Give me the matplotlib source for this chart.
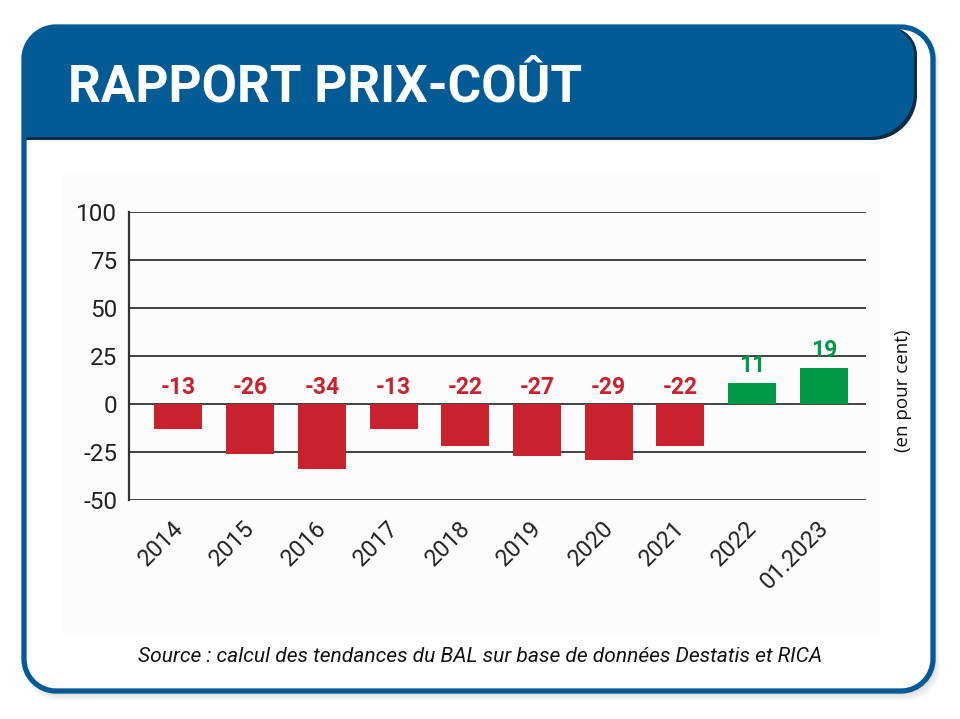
import numpy as np
import matplotlib
matplotlib.use("Agg")
import matplotlib.pyplot as plt
from matplotlib.path import Path
from matplotlib.patches import PathPatch, Rectangle
from matplotlib.transforms import ScaledTranslation

# données
categories = ["2014", "2015", "2016", "2017", "2018", "2019", "2020", "2021", "2022", "01.2023"]
valeurs = [-13, -26, -34, -13, -22, -27, -29, -22, 11, 19]
yticks = [-50, -25, 0, 25, 50, 75, 100]

BLEU = "#035b96"
ROUGE = "#c9222f"
VERT = "#009a47"
W, H = 960, 719


def rrect(x0, y0, x1, y1, rtl, rtr, rbr, rbl):
    # rectangle arrondi en pixels (y vers le bas)
    k = 0.5523
    v, c = [], []
    v.append((x0 + rtl, y0)); c.append(Path.MOVETO)
    v.append((x1 - rtr, y0)); c.append(Path.LINETO)
    v += [(x1 - rtr + k * rtr, y0), (x1, y0 + rtr - k * rtr), (x1, y0 + rtr)]; c += [Path.CURVE4] * 3
    v.append((x1, y1 - rbr)); c.append(Path.LINETO)
    v += [(x1, y1 - rbr + k * rbr), (x1 - rbr + k * rbr, y1), (x1 - rbr, y1)]; c += [Path.CURVE4] * 3
    v.append((x0 + rbl, y1)); c.append(Path.LINETO)
    v += [(x0 + rbl - k * rbl, y1), (x0, y1 - rbl + k * rbl), (x0, y1 - rbl)]; c += [Path.CURVE4] * 3
    v.append((x0, y0 + rtl)); c.append(Path.LINETO)
    v += [(x0, y0 + rtl - k * rtl), (x0 + rtl - k * rtl, y0), (x0 + rtl, y0)]; c += [Path.CURVE4] * 3
    v.append((x0 + rtl, y0)); c.append(Path.CLOSEPOLY)
    return Path(v, c)


fig = plt.figure(figsize=(W / 100, H / 100), dpi=100)
fig.patch.set_facecolor("white")

# fond : cadre, en-tete
bg = fig.add_axes([0, 0, 1, 1], zorder=0)
bg.set_xlim(0, W)
bg.set_ylim(H, 0)
bg.axis("off")

for i in range(6):
    bg.add_patch(PathPatch(rrect(24 + 2, 27 + 4, 933 + 2 + i, 691 + 2 + i * 1.5, 32, 32, 32, 32),
                           facecolor="#000000", edgecolor="none", alpha=0.025))
bg.add_patch(PathPatch(rrect(24, 27, 933, 691, 32, 32, 32, 32), facecolor="white", edgecolor="none"))
bg.add_patch(Rectangle((63, 175), 817, 458, facecolor="#fcfcfc", edgecolor="none"))
# ombre de l'en-tete
bg.add_patch(PathPatch(rrect(24, 27, 917, 140, 32, 28, 45, 0), facecolor="#0b2b48", edgecolor="none"))
bg.add_patch(PathPatch(rrect(24, 27, 914, 137, 32, 28, 45, 0), facecolor=BLEU, edgecolor="none"))
bg.add_patch(PathPatch(rrect(24, 27, 933, 691, 32, 32, 32, 32), facecolor="none", edgecolor=BLEU, lw=3.8))

fig.text(68 / W, 1 - 101 / H, "RAPPORT PRIX-COÛT", color="white", fontsize=37,
         fontweight="bold", family=["Roboto", "DejaVu Sans"],
         ha="left", va="baseline")

# graphique
ax = fig.add_axes([129 / W, 1 - 500 / H, 737 / W, 288 / H], zorder=2)
ax.patch.set_alpha(0)
x = np.arange(len(categories))
couleurs = [ROUGE if v < 0 else VERT for v in valeurs]
ax.bar(x, valeurs, width=0.67, color=couleurs, zorder=2)

for xi, v, col in zip(x, valeurs, couleurs):
    ax.annotate(str(v), (xi, max(v, 0)), xytext=(0, 7.5), textcoords="offset points",
                ha="center", va="baseline", color=col, fontsize=16.5, fontweight="bold",
                family="Roboto")

ax.set_xlim(-0.69, 9.59)
ax.set_ylim(-50, 100)
ax.set_yticks(yticks)
ax.set_yticklabels([str(t) for t in yticks], family="Roboto", fontsize=17.5, color="#222222")
ax.tick_params(axis="y", length=0, pad=8.5)
ax.yaxis.grid(True, color="#333333", lw=1.3)
ax.set_axisbelow(True)
for s in ["top", "right", "bottom"]:
    ax.spines[s].set_visible(False)
ax.spines["left"].set_color("#333333")
ax.spines["left"].set_linewidth(1.6)

ax.set_xticks(x)
ax.set_xticklabels(categories, rotation=45, ha="right", va="top", rotation_mode="anchor",
                   family="Roboto", fontsize=17, color="#222222")
ax.tick_params(axis="x", length=0, pad=12)
for lab in ax.get_xticklabels():
    lab.set_transform(lab.get_transform() + ScaledTranslation(-7 / 100, 0, fig.dpi_scale_trans))

fig.text(903 / W, 1 - 391 / H, "(en pour cent)", rotation=90, ha="center", va="center",
         fontsize=13.5, family="Open Sans", color="#111111")

fig.text(480 / W, 1 - 662 / H, "Source : calcul des tendances du BAL sur base de données Destatis et RICA",
         ha="center", va="baseline", fontsize=15.1, style="italic", family="Roboto",
         color="#111111")

fig.savefig("out.png", dpi=100)
